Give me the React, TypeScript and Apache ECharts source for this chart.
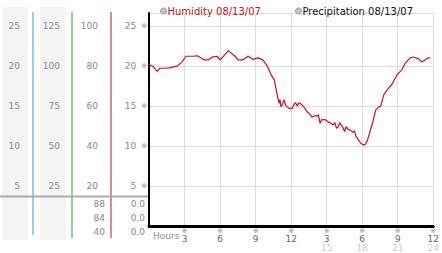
import React, { useEffect, useRef } from "react";
import * as echarts from "echarts";

const hours: number[] = [
  0, 0.36, 0.69, 0.91, 1.3, 1.74, 2.4, 2.79, 3.12, 3.67, 4.08, 4.64, 5.05, 5.33, 5.74, 6.02,
  6.4, 6.71, 7.0, 7.27, 7.54, 7.95, 8.37, 8.78, 9.2, 9.61, 10.02, 10.3, 10.58, 10.85, 10.99,
  11.06, 11.13, 11.27, 11.41, 11.55, 11.82, 12.1, 12.24, 12.37, 12.51, 12.65, 12.78, 13.06,
  13.34, 13.61, 13.75, 14.03, 14.17, 14.31, 14.44, 14.58, 14.72, 14.86, 15.14, 15.41, 15.55,
  15.69, 15.83, 15.97, 16.1, 16.24, 16.38, 16.51, 16.65, 16.79, 17.07, 17.21, 17.34, 17.48,
  17.76, 17.9, 18.17, 18.31, 18.45, 18.86, 19.14, 19.41, 19.55, 19.83, 20.11, 20.52, 20.94,
  21.35, 21.62, 22.04, 22.31, 22.73, 23.01, 23.28, 23.55, 23.75,
];
const humidity: number[] = [
  20.2, 19.9, 19.3, 19.7, 19.7, 19.75, 20.0, 20.5, 21.2, 21.2, 21.25, 20.75, 20.75, 21.1, 21.2,
  20.75, 21.4, 21.9, 21.5, 21.2, 20.75, 20.75, 21.2, 20.8, 21.0, 20.75, 19.9, 18.9, 18.25, 16.2,
  15.3, 15.8, 14.9, 15.2, 15.75, 15.0, 14.7, 14.7, 15.2, 15.4, 15.0, 15.4, 15.3, 14.9, 14.3,
  13.9, 13.6, 13.8, 13.7, 13.9, 12.8, 13.3, 13.25, 13.3, 13.0, 12.8, 12.6, 12.9, 12.2, 12.4,
  12.9, 12.6, 12.3, 11.8, 12.4, 12.1, 11.9, 11.7, 11.9, 11.2, 10.6, 10.3, 10.1, 10.3, 10.75,
  12.8, 14.5, 14.9, 14.9, 16.4, 17.0, 17.7, 18.9, 19.5, 20.3, 21.0, 21.1, 20.9, 20.5, 20.7,
  21.0, 21.0,
];
const seriesNames: string[] = ["Humidity 08/13/07", "Precipitation 08/13/07"];
const tempRows: string[] = ["88", "84", "40"];
const precipRows: string[] = ["0.0", "0.0", "0.0"];

const FONT = "DejaVu Sans";
const RED = "#cc1020";
const GREY = "#888";

export default function App() {
  const ref = useRef<HTMLDivElement>(null);
  useEffect(() => {
    if (!ref.current) return;
    const chart = echarts.init(ref.current, undefined, { renderer: "svg" });
    const data = hours.map((h, i) => [h, humidity[i]]);
    const sideAxis = (offset: number, max: number, interval: number) => ({
      type: "value",
      position: "left",
      offset,
      min: 0,
      max,
      interval,
      axisLine: { show: false },
      axisTick: { show: false },
      splitLine: { show: false },
      axisLabel: {
        margin: 0,
        color: GREY,
        fontFamily: FONT,
        fontSize: 9,
        showMinLabel: false,
        showMaxLabel: false,
      },
    });
    const rowTexts: any[] = [];
    [204, 218, 232].forEach((y, i) => {
      rowTexts.push({
        type: "text",
        x: 105,
        y,
        style: { text: tempRows[i], fill: GREY, font: `9px "${FONT}"`, align: "right", verticalAlign: "middle" },
      });
      rowTexts.push({
        type: "text",
        x: 145,
        y,
        style: { text: precipRows[i], fill: GREY, font: `9px "${FONT}"`, align: "right", verticalAlign: "middle" },
      });
    });
    chart.setOption({
      animation: false,
      textStyle: { fontFamily: FONT },
      grid: { left: 149, right: 5, top: 13, bottom: 27 },
      legend: {
        left: 155,
        top: 1,
        icon: "circle",
        itemWidth: 6,
        itemHeight: 6,
        itemGap: 34,
        textStyle: { fontSize: 10, fontFamily: FONT, padding: [0, 0, 0, -4] },
        data: [
          { name: seriesNames[0], textStyle: { color: RED }, itemStyle: { color: "#c4c4c4", borderColor: "#999", borderWidth: 1 } },
          { name: seriesNames[1], textStyle: { color: "#111" }, itemStyle: { color: "#c4c4c4", borderColor: "#999", borderWidth: 1 } },
        ],
      },
      xAxis: {
        type: "value",
        min: 0,
        max: 24,
        interval: 3,
        axisLine: { show: true, lineStyle: { color: "#000", width: 3 } },
        axisTick: { show: false },
        splitLine: { show: true, lineStyle: { color: "#ddd", width: 1 } },
        axisLabel: {
          margin: 2,
          formatter: (v: number) => {
            if (v === 0) return "";
            if (v <= 12) return `{m|※}\n{a|${v}}`;
            return `{m|※}\n{a|${v - 12}}\n{b|${v}}`;
          },
          rich: {
            m: { fontSize: 7, lineHeight: 6, color: "#888", fontFamily: FONT },
            a: { fontSize: 9, lineHeight: 9, color: "#666", fontFamily: FONT },
            b: { fontSize: 9, lineHeight: 10, color: "#ccc", fontFamily: FONT },
          },
        },
      },
      yAxis: [
        {
          type: "value",
          position: "left",
          min: 0,
          max: 26.6,
          interval: 5,
          axisLine: { show: true, lineStyle: { color: "#000", width: 2 } },
          axisTick: { show: false },
          splitLine: { show: true, lineStyle: { color: "#ddd", width: 1 } },
          axisLabel: {
            margin: 2,
            showMinLabel: false,
            showMaxLabel: false,
            formatter: (v: number) => `{a|${v}}{m|※}`,
            rich: {
              a: { fontSize: 9, color: GREY, fontFamily: FONT },
              m: { fontSize: 7, color: "#888", fontFamily: FONT, padding: [0, 0, 0, 5] },
            },
          },
        },
        sideAxis(129, 26.6, 5),
        sideAxis(89, 133, 25),
        sideAxis(51, 106.4, 20),
      ],
      graphic: [
        { type: "rect", z: -10, shape: { x: 2, y: 7, width: 26, height: 233 }, style: { fill: "#f4f4f4" } },
        { type: "rect", z: -10, shape: { x: 40, y: 7, width: 26, height: 233 }, style: { fill: "#f4f4f4" } },
        { type: "line", shape: { x1: 33, y1: 12, x2: 33, y2: 235 }, style: { stroke: "#2e9fd0", lineWidth: 1 } },
        { type: "line", shape: { x1: 72, y1: 12, x2: 72, y2: 238 }, style: { stroke: "#2aa02a", lineWidth: 1 } },
        { type: "line", shape: { x1: 111, y1: 12, x2: 111, y2: 238 }, style: { stroke: "#a82020", lineWidth: 1 } },
        { type: "line", shape: { x1: 0, y1: 196.5, x2: 149, y2: 196.5 }, style: { stroke: "#aaa", lineWidth: 2 } },
        {
          type: "text",
          x: 153,
          y: 236,
          style: { text: "Hours", fill: GREY, font: `9px "${FONT}"`, verticalAlign: "middle" },
        },
        ...rowTexts,
      ],
      series: [
        {
          name: seriesNames[0],
          type: "line",
          data,
          symbol: "none",
          lineStyle: { color: RED, width: 1.2 },
          itemStyle: { color: RED },
        },
        {
          name: seriesNames[1],
          type: "line",
          data: [],
          symbol: "none",
        },
      ],
    });
    return () => chart.dispose();
  }, []);
  return (
    <div
      ref={ref}
      style={{ position: "fixed", left: 0, top: 0, width: 442, height: 253, background: "#fff" }}
    />
  );
}
